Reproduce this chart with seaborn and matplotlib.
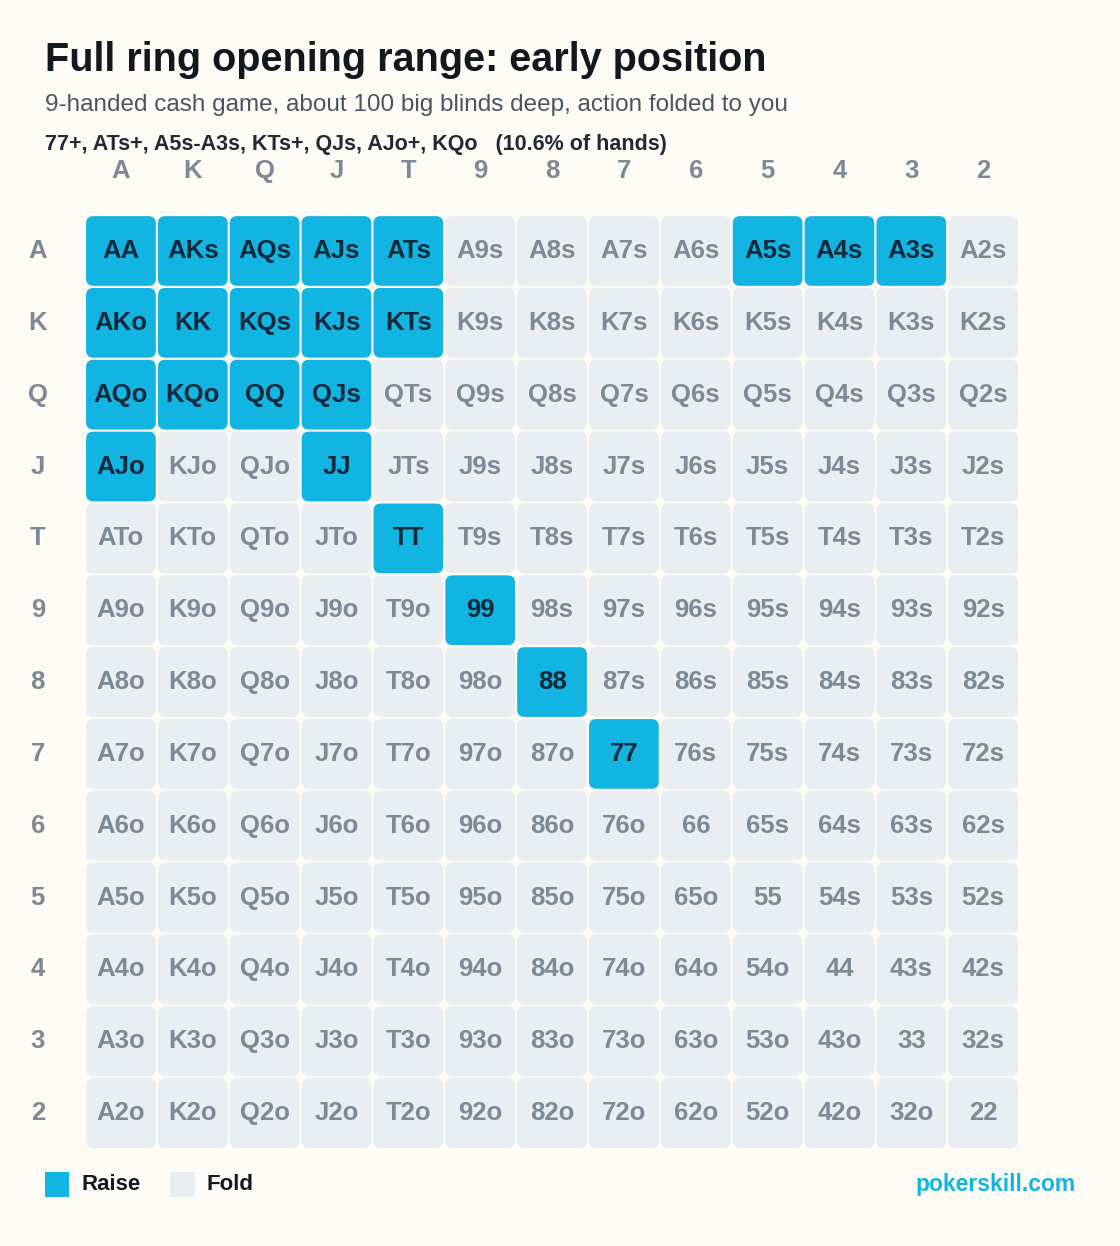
import numpy as np
import pandas as pd
import seaborn as sns
import matplotlib
matplotlib.use("Agg")
import matplotlib.pyplot as plt
from matplotlib.patches import FancyBboxPatch, Rectangle

ranks = ["A", "K", "Q", "J", "T", "9", "8", "7", "6", "5", "4", "3", "2"]
raise_hands = ["AA", "KK", "QQ", "JJ", "TT", "99", "88", "77",
               "AKs", "AQs", "AJs", "ATs", "A5s", "A4s", "A3s",
               "KQs", "KJs", "KTs", "QJs", "AKo", "AQo", "AJo", "KQo"]

BG = "#FDFBF3"
RAISE = "#12B5E2"
FOLD = "#E9EEF3"
plt.rcParams['font.family'] = ['Liberation Sans', 'DejaVu Sans']

labels = []
vals = []
for i, r in enumerate(ranks):
    lr, lv = [], []
    for j, c in enumerate(ranks):
        if i == j:
            h = r + c
        elif j > i:
            h = r + c + "s"
        else:
            h = c + r + "o"
        lr.append(h)
        lv.append(1 if h in raise_hands else 0)
    labels.append(lr)
    vals.append(lv)
df = pd.DataFrame(vals, index=ranks, columns=ranks)

fig = plt.figure(figsize=(11.2, 12.46), dpi=100, facecolor=BG)
ax = fig.add_axes([0.0759, 0.0778, 0.834, 0.7496])
ax.set_facecolor(BG)
sns.heatmap(df, ax=ax, cmap=matplotlib.colors.ListedColormap([FOLD, RAISE]),
            vmin=0, vmax=1, cbar=False, square=False, linewidths=0)
for coll in ax.collections:
    coll.set_alpha(0)

g = 0.015
for i in range(13):
    for j in range(13):
        v = vals[i][j]
        ax.add_patch(FancyBboxPatch((j + g, i + g), 1 - 2 * g, 1 - 2 * g,
                                    boxstyle="round,pad=0,rounding_size=0.1",
                                    fc=RAISE if v else FOLD, ec="none"))
        ax.text(j + 0.5, i + 0.5, labels[i][j], ha="center", va="center",
                fontsize=18.5, fontweight="bold",
                color="#10293A" if v else "#7C8996")

ax.xaxis.tick_top()
ax.set_xticks(np.arange(13) + 0.5)
ax.set_xticklabels(ranks, fontsize=18.5, color="#7C8996", fontweight="bold")
ax.set_yticks(np.arange(13) + 0.5)
ax.set_yticklabels(ranks, fontsize=18.5, color="#7C8996", fontweight="bold", rotation=0)
ax.tick_params(length=0)
ax.tick_params(axis="x", pad=23)
ax.tick_params(axis="y", pad=34)
for lab in ax.get_yticklabels():
    lab.set_horizontalalignment("center")
ax.set_xlabel(""); ax.set_ylabel("")
for s in ax.spines.values():
    s.set_visible(False)

fig.text(0.040, 0.952, "Full ring opening range: early position", fontsize=28.5,
         fontweight="bold", color="#111820", va="center")
fig.text(0.040, 0.916, "9-handed cash game, about 100 big blinds deep, action folded to you",
         fontsize=17.5, color="#4A5561", va="center")
fig.text(0.040, 0.884, "77+, ATs+, A5s-A3s, KTs+, QJs, AJo+, KQo   (10.6% of hands)",
         fontsize=15.5, fontweight="bold", color="#1E2A36", va="center")

fig.patches.append(Rectangle((0.040, 0.039), 0.022, 0.020, transform=fig.transFigure,
                             fc=RAISE, ec="none"))
fig.text(0.073, 0.049, "Raise", fontsize=16, fontweight="bold", color="#111820", va="center")
fig.patches.append(Rectangle((0.152, 0.039), 0.022, 0.020, transform=fig.transFigure,
                             fc=FOLD, ec="none"))
fig.text(0.184, 0.049, "Fold", fontsize=16, fontweight="bold", color="#111820", va="center")
fig.text(0.960, 0.049, "pokerskill.com", fontsize=16.5, fontweight="bold", color=RAISE,
         va="center", ha="right")

fig.savefig("out.png", dpi=100, facecolor=BG)
